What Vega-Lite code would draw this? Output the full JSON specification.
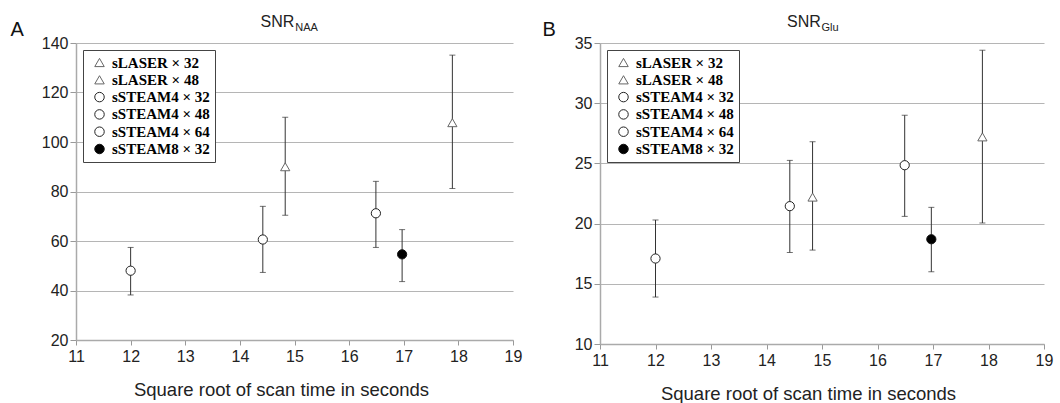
{
  "$schema": "https://vega.github.io/schema/vega-lite/v6.json",
  "padding": {"left": 10, "top": 14, "right": 5, "bottom": 0},
  "background": "white",
  "config": {
    "view": {"stroke": null},
    "font": "Liberation Sans",
    "axis": {
      "domainColor": "#aaa", "domainWidth": 1.5, "tickColor": "#999", "gridColor": "#b5b5b5",
      "labelFont": "Liberation Sans", "labelFontSize": 16, "labelColor": "#222", "labelFlush": false,
      "titleFont": "Liberation Sans", "titleFontSize": 18.5, "titleFontWeight": "normal", "titleColor": "#222"
    },
    "axisX": {"grid": false, "tickSize": 5, "labelPadding": 3, "titlePadding": 16},
    "axisY": {"grid": true, "tickSize": 6, "labelPadding": 2, "titleAngle": 0, "titleAlign": "left", "titleBaseline": "alphabetic", "titleFontSize": 20, "titleY": -8, "titleColor": "#111"},
    "title": {"font": "Liberation Sans", "fontSize": 16, "fontWeight": "normal", "color": "#222", "subtitleFont": "Liberation Sans", "subtitleFontSize": 11, "subtitleColor": "#222", "subtitlePadding": -8, "offset": -14, "anchor": "middle", "frame": "group"},
    "legend": {"orient": "top-left", "offset": 7, "strokeColor": "#444", "fillColor": "white", "padding": 5, "symbolOffset": 4, "labelFont": "Liberation Serif", "labelFontWeight": "bold", "labelFontSize": 15, "labelColor": "black", "symbolSize": 90, "rowPadding": 1.3, "labelOffset": 5, "symbolStrokeWidth": 1}
  },
  "data": {"values": [
    {"series": "sSTEAM4 × 32", "x": 12, "naa": 48, "naa_lo": 38.2, "naa_hi": 57.4, "glu": 17.1, "glu_lo": 13.9, "glu_hi": 20.3},
    {"series": "sSTEAM4 × 48", "x": 14.42, "naa": 60.6, "naa_lo": 47.3, "naa_hi": 74, "glu": 21.45, "glu_lo": 17.6, "glu_hi": 25.25},
    {"series": "sLASER × 32", "x": 14.83, "naa": 90, "naa_lo": 70.4, "naa_hi": 110, "glu": 22.2, "glu_lo": 17.8, "glu_hi": 26.8},
    {"series": "sSTEAM4 × 64", "x": 16.49, "naa": 71.2, "naa_lo": 57.4, "naa_hi": 84.1, "glu": 24.85, "glu_lo": 20.6, "glu_hi": 29.0},
    {"series": "sSTEAM8 × 32", "x": 16.97, "naa": 54.6, "naa_lo": 43.6, "naa_hi": 64.6, "glu": 18.7, "glu_lo": 16.0, "glu_hi": 21.35},
    {"series": "sLASER × 48", "x": 17.89, "naa": 107.8, "naa_lo": 81.2, "naa_hi": 135.1, "glu": 27.2, "glu_lo": 20.05, "glu_hi": 34.4}
  ]},
  "spacing": 20,
  "resolve": {
    "scale": {"shape": "independent", "fill": "independent", "stroke": "independent"},
    "legend": {"shape": "independent", "fill": "independent", "stroke": "independent"}
  },
  "hconcat": [
    {
      "width": 437, "height": 297,
      "title": {"text": "SNR", "subtitle": "NAA", "encode": {"title": {"update": {"dx": {"value": -17}}}, "subtitle": {"update": {"dx": {"value": 12}}}}},
      "encoding": {
        "x": {"field": "x", "type": "quantitative", "scale": {"domain": [11, 19], "nice": false}, "axis": {"values": [11, 12, 13, 14, 15, 16, 17, 18, 19], "title": "Square root of scan time in seconds", "titleX": 205}}
      },
      "layer": [
        {"mark": {"type": "rule", "color": "#333", "strokeWidth": 1},
         "encoding": {"y": {"field": "naa_lo", "type": "quantitative", "scale": {"domain": [20, 140], "nice": false, "zero": false}, "axis": {"values": [20, 40, 60, 80, 100, 120, 140], "title": "A", "titleX": -66}}, "y2": {"field": "naa_hi"}}},
        {"mark": {"type": "tick", "orient": "horizontal", "size": 6, "thickness": 1, "color": "#333"},
         "encoding": {"y": {"field": "naa_lo", "type": "quantitative", "axis": {"values": [20, 40, 60, 80, 100, 120, 140], "title": "A", "titleX": -66}}}},
        {"mark": {"type": "tick", "orient": "horizontal", "size": 6, "thickness": 1, "color": "#333"},
         "encoding": {"y": {"field": "naa_hi", "type": "quantitative", "axis": {"values": [20, 40, 60, 80, 100, 120, 140], "title": "A", "titleX": -66}}}},
        {"mark": {"type": "point", "filled": true, "size": 85, "strokeWidth": 1, "opacity": 1},
         "encoding": {
           "y": {"field": "naa", "type": "quantitative", "axis": {"values": [20, 40, 60, 80, 100, 120, 140], "title": "A", "titleX": -66}},
           "shape": {"field": "series", "type": "nominal", "scale": {"domain": ["sLASER × 32", "sLASER × 48", "sSTEAM4 × 32", "sSTEAM4 × 48", "sSTEAM4 × 64", "sSTEAM8 × 32"], "range": ["triangle-up", "triangle-up", "circle", "circle", "circle", "circle"]}, "legend": {"title": null}},
           "fill": {"field": "series", "type": "nominal", "scale": {"domain": ["sLASER × 32", "sLASER × 48", "sSTEAM4 × 32", "sSTEAM4 × 48", "sSTEAM4 × 64", "sSTEAM8 × 32"], "range": ["white", "white", "white", "white", "white", "black"]}, "legend": {"title": null}},
           "stroke": {"field": "series", "type": "nominal", "scale": {"domain": ["sLASER × 32", "sLASER × 48", "sSTEAM4 × 32", "sSTEAM4 × 48", "sSTEAM4 × 64", "sSTEAM8 × 32"], "range": ["#666", "#666", "#222", "#222", "#222", "#111"]}, "legend": {"title": null}}
         }}
      ]
    },
    {
      "width": 444, "height": 301,
      "title": {"text": "SNR", "subtitle": "Glu", "encode": {"title": {"update": {"dx": {"value": -18}}}, "subtitle": {"update": {"dx": {"value": 8}}}}},
      "encoding": {
        "x": {"field": "x", "type": "quantitative", "scale": {"domain": [11, 19], "nice": false}, "axis": {"values": [11, 12, 13, 14, 15, 16, 17, 18, 19], "title": "Square root of scan time in seconds", "titleX": 208}}
      },
      "layer": [
        {"mark": {"type": "rule", "color": "#333", "strokeWidth": 1},
         "encoding": {"y": {"field": "glu_lo", "type": "quantitative", "scale": {"domain": [10, 35], "nice": false, "zero": false}, "axis": {"values": [10, 15, 20, 25, 30, 35], "title": "B", "titleX": -58}}, "y2": {"field": "glu_hi"}}},
        {"mark": {"type": "tick", "orient": "horizontal", "size": 6, "thickness": 1, "color": "#333"},
         "encoding": {"y": {"field": "glu_lo", "type": "quantitative", "axis": {"values": [10, 15, 20, 25, 30, 35], "title": "B", "titleX": -58}}}},
        {"mark": {"type": "tick", "orient": "horizontal", "size": 6, "thickness": 1, "color": "#333"},
         "encoding": {"y": {"field": "glu_hi", "type": "quantitative", "axis": {"values": [10, 15, 20, 25, 30, 35], "title": "B", "titleX": -58}}}},
        {"mark": {"type": "point", "filled": true, "size": 85, "strokeWidth": 1, "opacity": 1},
         "encoding": {
           "y": {"field": "glu", "type": "quantitative", "axis": {"values": [10, 15, 20, 25, 30, 35], "title": "B", "titleX": -58}},
           "shape": {"field": "series", "type": "nominal", "scale": {"domain": ["sLASER × 32", "sLASER × 48", "sSTEAM4 × 32", "sSTEAM4 × 48", "sSTEAM4 × 64", "sSTEAM8 × 32"], "range": ["triangle-up", "triangle-up", "circle", "circle", "circle", "circle"]}, "legend": {"title": null}},
           "fill": {"field": "series", "type": "nominal", "scale": {"domain": ["sLASER × 32", "sLASER × 48", "sSTEAM4 × 32", "sSTEAM4 × 48", "sSTEAM4 × 64", "sSTEAM8 × 32"], "range": ["white", "white", "white", "white", "white", "black"]}, "legend": {"title": null}},
           "stroke": {"field": "series", "type": "nominal", "scale": {"domain": ["sLASER × 32", "sLASER × 48", "sSTEAM4 × 32", "sSTEAM4 × 48", "sSTEAM4 × 64", "sSTEAM8 × 32"], "range": ["#666", "#666", "#222", "#222", "#222", "#111"]}, "legend": {"title": null}}
         }}
      ]
    }
  ]
}
